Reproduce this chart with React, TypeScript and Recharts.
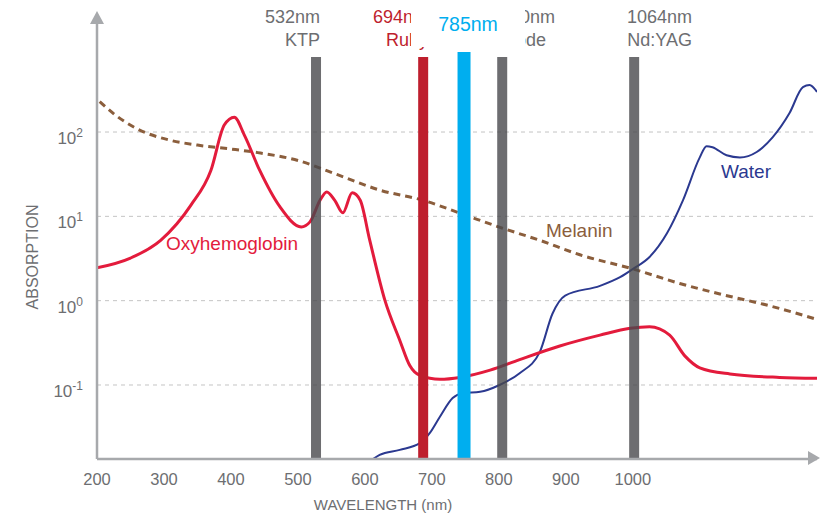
import { LineChart, Line, XAxis, YAxis, CartesianGrid, ReferenceLine } from 'recharts'

// wavelength (nm) / absorption
const OXY_NM = [200, 250, 295, 340, 370, 390, 405, 420, 443, 473, 505, 518, 533, 543, 555, 567, 581, 593, 607, 630, 652, 667, 682, 712, 742, 787, 831, 891, 951, 996, 1025, 1055, 1078, 1100, 1145, 1219, 1275]
const OXY = [2.45, 3.2, 5.2, 13.5, 35, 121, 150, 92, 35, 13, 7.5, 8.6, 15.5, 19.5, 15.5, 11, 19, 15.5, 5.3, 1, 0.34, 0.17, 0.13, 0.117, 0.123, 0.15, 0.2, 0.29, 0.39, 0.47, 0.49, 0.39, 0.22, 0.16, 0.135, 0.123, 0.12]

const MEL_NM = [204, 227, 257, 309, 350, 399, 440, 500, 560, 622, 687, 749, 804, 861, 921, 1001, 1070, 1130, 1204, 1275]
const MEL = [229, 160, 112, 80, 70, 63, 57, 46, 31, 20.5, 15.5, 10.4, 7.3, 5.2, 3.5, 2.37, 1.6, 1.2, 0.87, 0.6]

const WATER_NM = [612, 622, 652, 682, 697, 712, 731, 746, 772, 801, 831, 861, 880, 899, 951, 981, 1001, 1025, 1051, 1075, 1100, 1110, 1119, 1140, 1160, 1185, 1209, 1234, 1254, 1264, 1275]
const WATER = [0.0132, 0.0148, 0.017, 0.0204, 0.027, 0.042, 0.07, 0.08, 0.083, 0.1, 0.138, 0.245, 0.7, 1.15, 1.5, 1.9, 2.4, 3.3, 6.3, 15.6, 50, 68, 66, 53, 50, 58, 87, 168, 341, 360, 298]

// laser lines: where they sit on the drawn axis
const LASER_NM = [527, 687, 748, 805, 1002]
const LASER_TOP = [776, 776, 890, 776, 776]
const LASER_COLOR = ['#48494c', '#be1e2d', '#00aeef', '#48494c', '#48494c']
const LASER_OPACITY = [0.8, 1, 1, 0.8, 0.8]
const LASER_WIDTH = [10, 10, 13, 10, 10]

const X_TICKS = [200, 300, 400, 500, 600, 700, 800, 900, 1000]
const Y_TICKS = [0.1, 1, 10, 100]
const Y_MIN = 0.01325
const Y_MAX = 2443

const toRows = (xs: number[], ys: number[]) => xs.map((x, i) => ({ x, y: ys[i] }))
const oxyData = toRows(OXY_NM, OXY)
const melData = toRows(MEL_NM, MEL)
const waterData = toRows(WATER_NM, WATER)

const FONT = '"Liberation Sans", Arial, sans-serif'
const GRAY = '#6d6e71'
const AXIS = '#a7a9ac'

function XTick({ x, y, payload }: any) {
  return (
    <text x={x} y={y + 26} textAnchor="middle" fill={GRAY} fontSize={16.5} fontFamily={FONT}>
      {payload.value}
    </text>
  )
}

function YTick({ x, y, payload }: any) {
  const exp = Math.round(Math.log10(payload.value))
  return (
    <text x={x - 14} y={y + 12} textAnchor="end" fill={GRAY} fontSize={17} fontFamily={FONT}>
      <tspan>10</tspan>
      <tspan dy={-7} fontSize={12}>{exp}</tspan>
    </text>
  )
}

export default function App() {
  return (
    <div style={{ position: 'absolute', left: 0, top: 0, width: 828, height: 515, background: '#fff' }}>
      <LineChart width={828} height={515} margin={{ top: 15, right: 11, bottom: 26, left: 0 }}>
        <CartesianGrid vertical={false} horizontalValues={Y_TICKS} stroke="#c4c4c4" strokeDasharray="4 4" />
        <XAxis
          type="number"
          dataKey="x"
          domain={[200, 1275]}
          ticks={X_TICKS}
          allowDataOverflow
          height={30}
          tickSize={0}
          tickMargin={0}
          axisLine={{ stroke: AXIS, strokeWidth: 2.5 }}
          tickLine={false}
          tick={<XTick />}
        />
        <YAxis
          type="number"
          scale="log"
          domain={[Y_MIN, Y_MAX]}
          ticks={Y_TICKS}
          allowDataOverflow
          width={97}
          tickSize={0}
          tickMargin={0}
          axisLine={{ stroke: AXIS, strokeWidth: 2.5 }}
          tickLine={false}
          tick={<YTick />}
        />
        <Line data={melData} dataKey="y" type="monotone" stroke="#8b5e3c" strokeWidth={3} strokeDasharray="7 5" dot={false} isAnimationActive={false} />
        <Line data={waterData} dataKey="y" type="monotone" stroke="#2b3990" strokeWidth={2} dot={false} isAnimationActive={false} />
        <Line data={oxyData} dataKey="y" type="monotone" stroke="#e31b3c" strokeWidth={3} dot={false} isAnimationActive={false} />
        {LASER_NM.map((nm, i) => (
          <ReferenceLine
            key={nm}
            segment={[{ x: nm, y: Y_MIN }, { x: nm, y: LASER_TOP[i] }]}
            stroke={LASER_COLOR[i]}
            strokeOpacity={LASER_OPACITY[i]}
            strokeWidth={LASER_WIDTH[i]}
            ifOverflow="visible"
          />
        ))}
      </LineChart>
      <svg width={828} height={515} style={{ position: 'absolute', left: 0, top: 0, pointerEvents: 'none' }} fontFamily={FONT}>
        <polygon points="97,11 90,24 104,24" fill={AXIS} />
        <polygon points="820,458 808,451 808,465" fill={AXIS} />
        <text x={383} y={510} textAnchor="middle" fill={GRAY} fontSize={15}>WAVELENGTH (nm)</text>
        <text x={38} y={257} textAnchor="middle" fill={GRAY} fontSize={16} transform="rotate(-90 38 257)">ABSORPTION</text>
        <text x={166} y={250} fill="#e31b3c" fontSize={19}>Oxyhemoglobin</text>
        <text x={546} y={237} fill="#8b5e3c" fontSize={19}>Melanin</text>
        <text x={721} y={178} fill="#2b3990" fontSize={19}>Water</text>
        <g fontSize={18}>
          <text x={320} y={23} textAnchor="end" fill={GRAY}>532nm</text>
          <text x={320} y={46} textAnchor="end" fill={GRAY}>KTP</text>
          <text x={428} y={23} textAnchor="end" fill="#be1e2d">694nm</text>
          <text x={428} y={46} textAnchor="end" fill="#be1e2d">Ruby</text>
          <text x={555} y={23} textAnchor="end" fill={GRAY}>810nm</text>
          <text x={546} y={46} textAnchor="end" fill={GRAY}>Diode</text>
          <text x={692} y={23} textAnchor="end" fill={GRAY}>1064nm</text>
          <text x={692} y={46} textAnchor="end" fill={GRAY}>Nd:YAG</text>
        </g>
        <rect x={411} y={0} width={114} height={47} fill="#fff" />
        <text x={468} y={31} textAnchor="middle" fill="#00aeef" fontSize={19.5}>785nm</text>
      </svg>
    </div>
  )
}
